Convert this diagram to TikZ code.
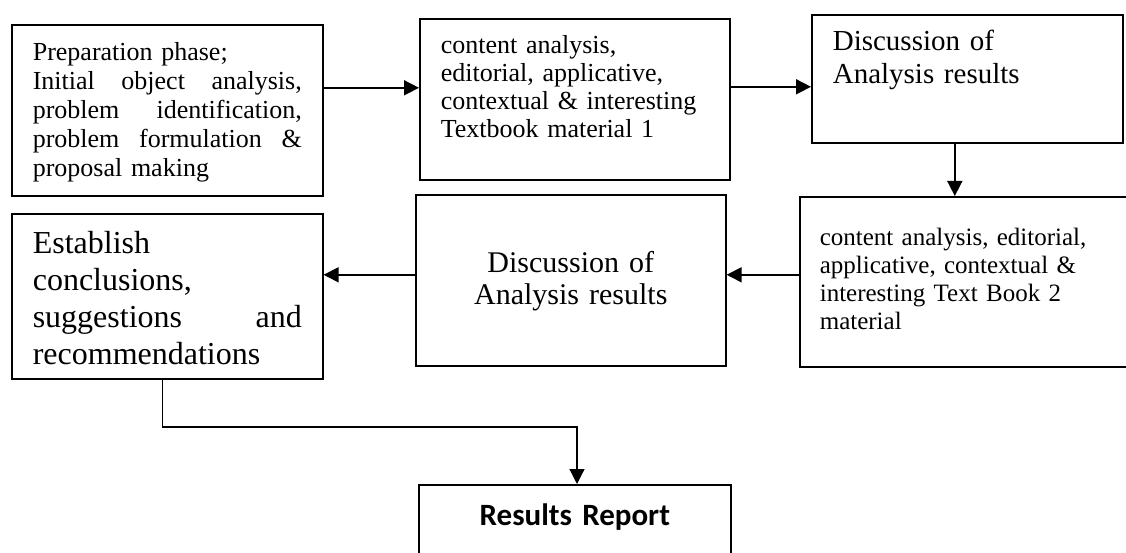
\documentclass[tikz,border=0pt]{standalone}
\usepackage{fontspec}
\setmainfont{Liberation Serif}
\newfontfamily\reportfont{Carlito}
\usetikzlibrary{arrows.meta}
\newcommand{\jline}[1]{{\spaceskip=0pt\xspaceskip=0pt\makebox[269pt][s]{#1}}}
\tikzset{
  box/.style={draw, line width=1.6pt, anchor=north west, inner ysep=0pt, inner xsep=21pt, align=left},
  arr/.style={line width=1.6pt, -{Triangle[length=15pt,width=15pt]}}
}
\begin{document}
\begin{tikzpicture}[x=1pt,y=-1pt]
  \useasboundingbox (0,0) rectangle (1126,553);
  % first row
  \node[box, text width=269pt, text height=36pt, text depth=135pt, font={\fontsize{26}{29}\selectfont}] (prep) at (11,24)
    {Preparation phase;\\ \jline{Initial object analysis,}\\ \jline{problem identification,}\\ \jline{problem formulation \&}\\ proposal making};
  \node[box, text width=268pt, text height=35pt, text depth=126pt, font={\fontsize{26}{28}\selectfont}] (book1) at (419,18)
    {content analysis,\\ editorial, applicative,\\ contextual \& interesting\\ Textbook material 1};
  \node[box, text width=269pt, text height=36pt, text depth=92pt, font={\fontsize{29}{33}\selectfont}] (discuss1) at (811,14)
    {Discussion of\\ Analysis results};
  % second row
  \node[box, inner xsep=20pt, text width=301pt, text height=49pt, text depth=121pt, font={\fontsize{25}{28}\selectfont}] (book2) at (799,196)
    {content analysis, editorial,\\ applicative, contextual \&\\ interesting Text Book 2\\ material};
  \node[box, align=center, inner xsep=10pt, text width=290pt, text height=78pt, text depth=93pt, font={\fontsize{30}{32}\selectfont}] (discuss2) at (415,194)
    {Discussion of\\ Analysis results};
  \node[box, text width=269pt, text height=40pt, text depth=125pt, font={\fontsize{32}{37}\selectfont}] (concl) at (11,213)
    {Establish\\ conclusions,\\ \jline{suggestions and}\\ recommendations};
  % report
  \node[box, align=center, inner xsep=0pt, text width=312pt, text height=41pt, text depth=59pt, font={\reportfont\bfseries\fontsize{31}{36}\selectfont}] (report) at (418,484)
    {Results Report};
  \coordinate (turn) at (577,427);
  % connectors
  \draw[arr] ([yshift=22.5pt]prep.east) -- ([yshift=22.5pt]prep.east -| book1.west);
  \draw[arr] ([yshift=12.5pt]book1.east) -- ([yshift=12.5pt]book1.east -| discuss1.west);
  \draw[arr] ([xshift=-12.5pt]discuss1.south) -- ([xshift=-12.5pt]discuss1.south |- book2.north);
  \draw[arr] ([yshift=7pt]book2.west) -- ([yshift=7pt]book2.west -| discuss2.east);
  \draw[arr] ([yshift=5.5pt]discuss2.west) -- ([yshift=5.5pt]discuss2.west -| concl.east);
  \draw[arr, line width=1.2pt] ([xshift=-4.5pt]concl.south) |- (turn) -- (turn |- report.north);
\end{tikzpicture}
\end{document}
